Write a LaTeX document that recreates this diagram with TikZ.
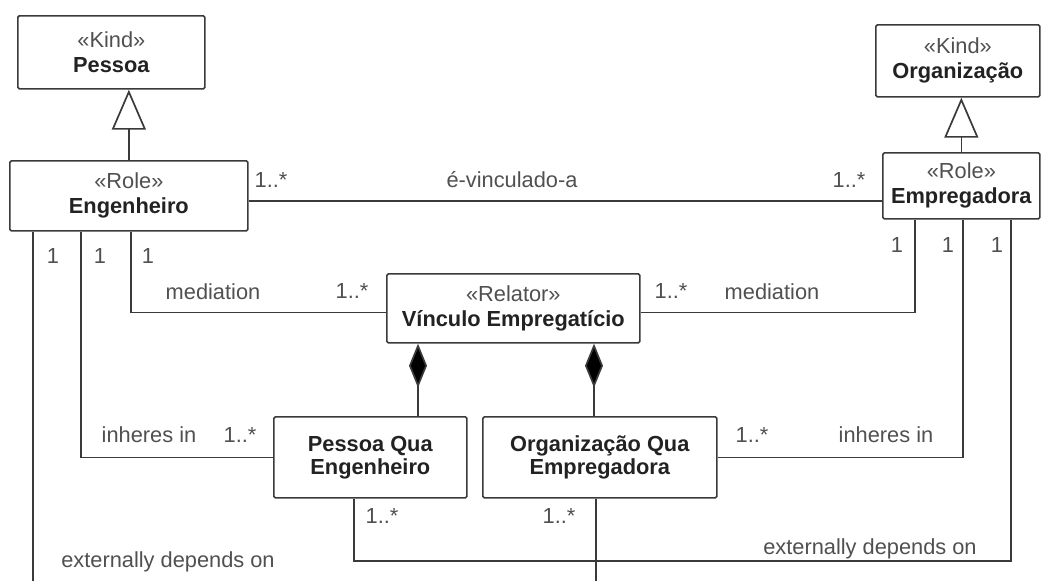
\documentclass[tikz,border=0pt]{standalone}
\usepackage{fontspec}
\setmainfont{Liberation Sans}
\usetikzlibrary{arrows.meta}
\definecolor{lc}{HTML}{3A3A3A}
\definecolor{tc}{HTML}{505050}
\definecolor{nc}{HTML}{222222}
\tikzset{
  cls/.style={draw=lc, line width=1.7pt, rounded corners=1.5pt, fill=white, anchor=north west,
    inner sep=0pt, align=center, font=\fontsize{21.8}{25}\selectfont, text=nc},
  clsq/.style={cls, font=\fontsize{21.8}{23}\selectfont},
  conn/.style={draw=lc, line width=1.7pt},
  genarrow/.style={-{Triangle[open,fill=white,length=40pt,width=34pt]}},
  comparrow/.style={{Diamond[length=44pt,width=18pt,fill=black]}-},
  lbl/.style={anchor=base, inner sep=0pt, text=tc, font=\fontsize{21.8}{25}\selectfont},
}
\newcommand{\stereo}[1]{{\color{tc}«#1»}}
\begin{document}
\begin{tikzpicture}[x=1pt,y=-1pt]
\useasboundingbox (0,0) rectangle (1042,581);

% classes
\node[cls, minimum width=187pt, minimum height=73pt] (pessoa) at (17,15) {\stereo{Kind}\\\textbf{Pessoa}};
\node[cls, minimum width=238pt, minimum height=70pt] (eng) at (9,160) {\stereo{Role}\\\textbf{Engenheiro}};
\node[cls, minimum width=164pt, minimum height=72pt] (org) at (875,24) {\stereo{Kind}\\\textbf{Organização}};
\node[cls, minimum width=157pt, minimum height=66pt] (emp) at (882,152) {\stereo{Role}\\\textbf{Empregadora}};
\node[cls, minimum width=253pt, minimum height=69pt] (vin) at (386,273) {\stereo{Relator}\\\textbf{Vínculo Empregatício}};
\node[clsq, minimum width=193pt, minimum height=81pt] (pqe) at (273,416) {\textbf{Pessoa Qua}\\\textbf{Engenheiro}};
\node[clsq, minimum width=234pt, minimum height=81pt] (oqe) at (482,416) {\textbf{Organização Qua}\\\textbf{Empregadora}};

% helper coordinates
\coordinate (e1) at ([yshift=-5pt]eng.east);
\coordinate (eb1) at ([xshift=24pt]eng.south west);
\coordinate (eb2) at ([xshift=72pt]eng.south west);
\coordinate (eb3) at ([xshift=2pt]eng.south);
\coordinate (mb1) at ([xshift=-46.5pt]emp.south);
\coordinate (mb2) at ([xshift=1.5pt]emp.south);
\coordinate (mb3) at ([xshift=49.5pt]emp.south);
\coordinate (vw) at ([yshift=-4pt]vin.west);
\coordinate (ve) at ([yshift=-4pt]vin.east);
\coordinate (vd1) at ([xshift=32pt]vin.south west);
\coordinate (vd2) at ([xshift=208pt]vin.south west);
\coordinate (pb) at ([xshift=-16.5pt]pqe.south);
\coordinate (ob) at ([xshift=-4pt]oqe.south);
\coordinate (bot) at (0,583);

% generalizations
\draw[conn, genarrow] (eng.north) -- (eng.north |- pessoa.south);
\draw[conn, genarrow] (emp.north) -- (emp.north |- org.south);

% associations
\draw[conn] (e1) -- (e1 -| emp.west);
\draw[conn] (eb3) |- (vw);
\draw[conn] (mb1) |- (ve);
\draw[conn] (eb2) |- (pqe.west);
\draw[conn] (mb2) |- (oqe.east);
\draw[conn, comparrow] (vd1) -- (vd1 |- pqe.north);
\draw[conn, comparrow] (vd2) -- (vd2 |- oqe.north);
\draw[conn] (pb) -- ++(0,62) -| (mb3);
\draw[conn] (eb1) -- (eb1 |- bot);
\draw[conn] (ob) -- (ob |- bot);

% labels
\node[lbl] (l1) at (271,187) {1..*};
\node[lbl] (l2) at (512,187) {é-vinculado-a};
\node[lbl] (l3) at (849,187) {1..*};
\node[lbl] (l4) at (53,263) {1};
\node[lbl] (l5) at (100,263) {1};
\node[lbl] (l6) at (148,263) {1};
\node[lbl] (l7) at (897,252) {1};
\node[lbl] (l8) at (948,252) {1};
\node[lbl] (l9) at (997,252) {1};
\node[lbl] (l10) at (213,299) {mediation};
\node[lbl] (l11) at (352,298) {1..*};
\node[lbl] (l12) at (671,298) {1..*};
\node[lbl] (l13) at (772,299) {mediation};
\node[lbl] (l14) at (149,442) {inheres in};
\node[lbl] (l15) at (240,442) {1..*};
\node[lbl] (l16) at (752,442) {1..*};
\node[lbl] (l17) at (886,442) {inheres in};
\node[lbl] (l18) at (382,523) {1..*};
\node[lbl] (l19) at (559,523) {1..*};
\node[lbl] (l20) at (168,567) {externally depends on};
\node[lbl] (l21) at (870,554) {externally depends on};
\end{tikzpicture}
\end{document}
